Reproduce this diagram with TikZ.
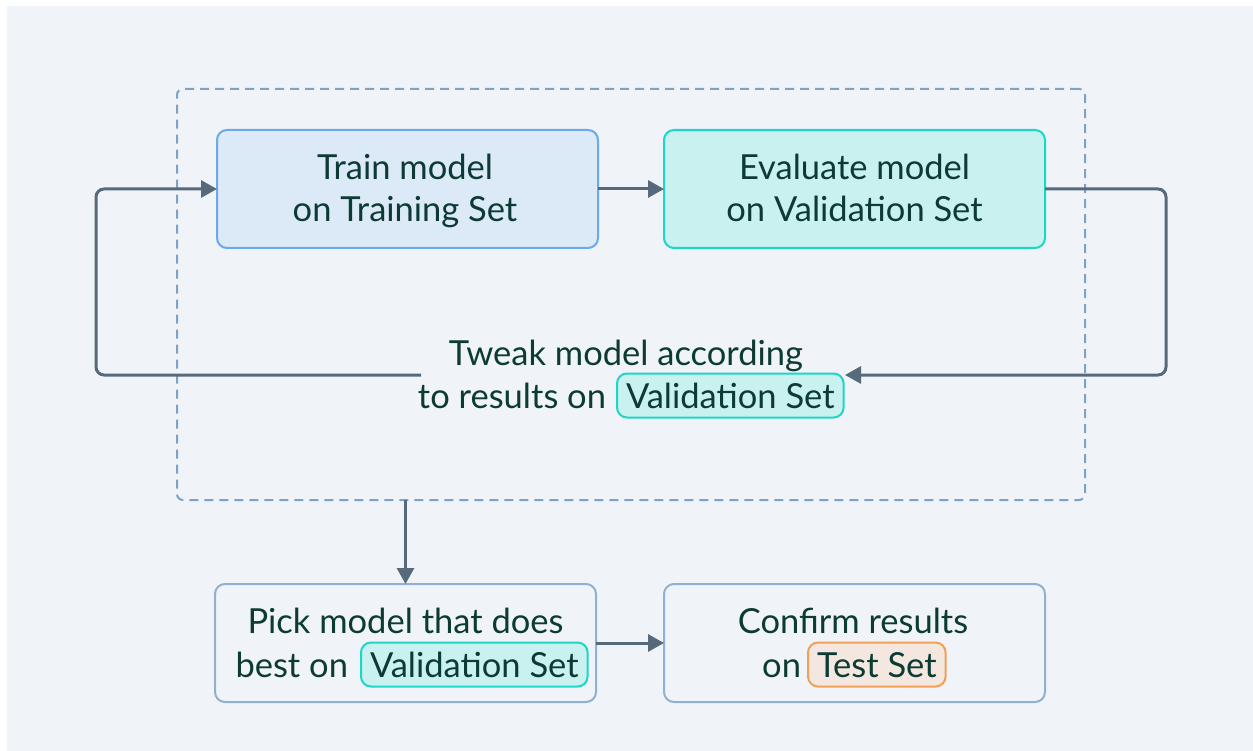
\documentclass[tikz,border=0pt]{standalone}
\usepackage{fontspec}
\setmainfont{Lato}
\usetikzlibrary{arrows.meta}

\definecolor{pagebg}{HTML}{F0F4F9}
\definecolor{ink}{HTML}{0C3B35}
\definecolor{wire}{HTML}{566A7C}
\definecolor{groupline}{HTML}{7DA2C5}
\definecolor{trainfill}{HTML}{DCE9F6}
\definecolor{trainline}{HTML}{6AA9EA}
\definecolor{valfill}{HTML}{C8F1EF}
\definecolor{valline}{HTML}{1ED6C6}
\definecolor{plainline}{HTML}{8FB0D1}
\definecolor{testfill}{HTML}{F3E7DF}
\definecolor{testline}{HTML}{F0A155}

\begin{document}
\begin{tikzpicture}[x=1pt,y=-1pt,
  every node/.style={inner sep=0pt, outer sep=0pt},
  box/.style={draw, line width=2pt, rounded corners=10pt,
    minimum width=381pt, minimum height=118pt},
  txt/.style={text=ink, font=\fontsize{34.5}{42}\selectfont},
  pill/.style={txt, draw, line width=2pt, rounded corners=10pt,
    text height=25pt, text depth=0pt, inner ysep=9.5pt, inner xsep=9pt},
  valpill/.style={pill, fill=valfill, draw=valline},
  testpill/.style={pill, fill=testfill, draw=testline},
  arr/.style={draw=wire, line width=3pt, rounded corners=8pt,
    -{Triangle[length=16pt,width=17pt]}}
]
% page
\path[fill=white] (0,0) rectangle (1253,751);
\useasboundingbox (0,0) rectangle (1253,751);
\fill[pagebg] (7,6) rectangle (1253,751);

% iteration group
\node[draw=groupline, line width=2pt, dash pattern=on 9pt off 6pt,
  rounded corners=6pt, minimum width=908pt, minimum height=411pt]
  (group) at (631,294.5) {};

% training / validation steps
\node[box, fill=trainfill, draw=trainline] (train) at (407.5,189) {};
\node[box, fill=valfill, draw=valline] (eval) at (854.5,189) {};
\node[txt, anchor=base] (train1) at (405,180) {Train model};
\node[txt, anchor=base] (train2) at (405,222) {on Training Set};
\node[txt, anchor=base] (eval1) at (854.5,180) {Evaluate model};
\node[txt, anchor=base] (eval2) at (854.5,222) {on Validation Set};

% tweak label
\node[txt, anchor=base] (tweak1) at (626,365) {Tweak model according};
\node[valpill, anchor=base west] (tweakpill) at (617,408) {Validation Set};
\node[txt, anchor=base east] (tweak2) at (606,408) {to results on};
\coordinate (tweakL) at (421,375);
\coordinate (tweakR) at (845,375);
\coordinate (loopL) at (96,375);
\coordinate (loopR) at (1166,375);

% final steps
\node[box, draw=plainline] (pick) at (405.5,643) {};
\node[box, draw=plainline] (confirm) at (854.5,643) {};
\node[txt, anchor=base] (pick1) at (405.5,633) {Pick model that does};
\node[valpill, anchor=base west] (pickpill) at (361,677) {Validation Set};
\node[txt, anchor=base east] (pick2) at (348,677) {best on};
\node[txt, anchor=base] (conf1) at (853,633) {Confirm results};
\node[testpill, anchor=base west] (confpill) at (808,677) {Test Set};
\node[txt, anchor=base east] (conf2) at (801,677) {on};

% connectors
\draw[arr] (train.east) -- (eval.west);
\draw[arr] (eval.east) -| (loopR) -- (tweakR);
\draw[arr] (tweakL) -- (loopL) |- (train.west);
\draw[arr] (pick.north |- group.south) -- (pick.north);
\draw[arr] (pick.east) -- (confirm.west);
\end{tikzpicture}
\end{document}
